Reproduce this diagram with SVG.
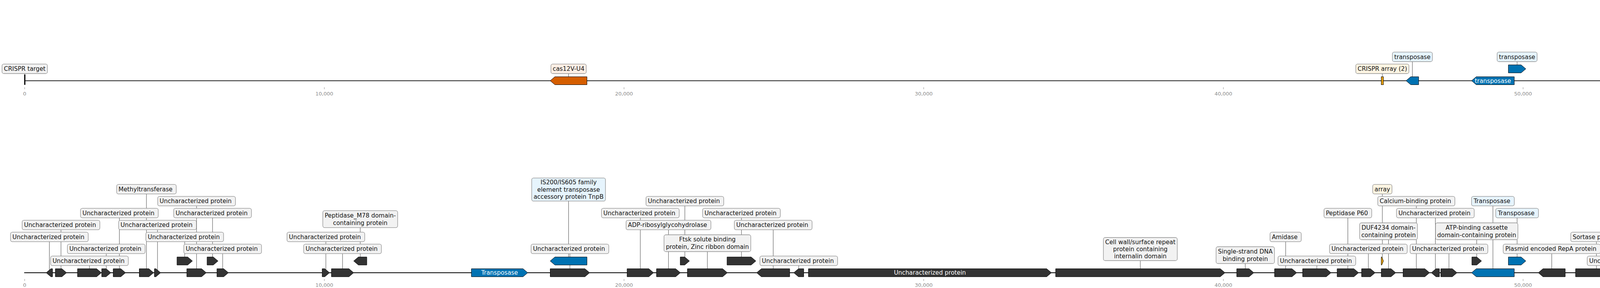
<svg xmlns="http://www.w3.org/2000/svg" width="7512" height="736" viewBox="0 0 7512 736">
<style>
text{font-family:"DejaVu Sans","Liberation Sans",sans-serif;font-size:15.28px;fill:#111;text-anchor:middle}
.g{fill:#333333;stroke:#000;stroke-width:1}
.gb{fill:#0072b2}
.go{fill:#d55e00}
.gy{fill:#e69f00}
.bx{fill:#f2f2f2;stroke:#8f8f8f;stroke-width:1.3}
.bb{fill:#e6f4fd}
.bo{fill:#fdefe5}
.by{fill:#fdf5e3}
.in{fill:#fff}
.tk{font-size:13px;fill:#8a8a8a}
.tm{stroke:#8a8a8a;stroke-width:1}
.cn line{stroke:#444;stroke-width:1}
.tr{stroke:#000;stroke-width:1.8}
</style>
<defs>
<rect id="up" class="bx" x="-99.5" y="-12.2" width="199" height="24.4" rx="4.6"/>
</defs>
<g id="tracks">
<line class="tr" x1="63" y1="206.3" x2="7502" y2="206.3"/>
<line class="tr" x1="62" y1="697" x2="7502" y2="697"/>
</g>
<g id="axis">
<g class="tm">
<line x1="63.1" y1="223" x2="63.1" y2="228"/><line x1="830.3" y1="223" x2="830.3" y2="228"/><line x1="1597.5" y1="223" x2="1597.5" y2="228"/><line x1="2364.7" y1="223" x2="2364.7" y2="228"/><line x1="3131.9" y1="223" x2="3131.9" y2="228"/><line x1="3899.1" y1="223" x2="3899.1" y2="228"/><line x1="4666.3" y1="223" x2="4666.3" y2="228"/><line x1="5433.5" y1="223" x2="5433.5" y2="228"/><line x1="6200.7" y1="223" x2="6200.7" y2="228"/><line x1="6967.9" y1="223" x2="6967.9" y2="228"/>
<line x1="63.1" y1="713" x2="63.1" y2="718"/><line x1="830.3" y1="713" x2="830.3" y2="718"/><line x1="1597.5" y1="713" x2="1597.5" y2="718"/><line x1="2364.7" y1="713" x2="2364.7" y2="718"/><line x1="3131.9" y1="713" x2="3131.9" y2="718"/><line x1="3899.1" y1="713" x2="3899.1" y2="718"/><line x1="4666.3" y1="713" x2="4666.3" y2="718"/><line x1="5433.5" y1="713" x2="5433.5" y2="718"/><line x1="6200.7" y1="713" x2="6200.7" y2="718"/><line x1="6967.9" y1="713" x2="6967.9" y2="718"/>
</g>
<text class="tk" x="63.1" y="244">0</text><text class="tk" x="830.3" y="244">10,000</text><text class="tk" x="1597.5" y="244">20,000</text><text class="tk" x="2364.7" y="244">30,000</text><text class="tk" x="3131.9" y="244">40,000</text><text class="tk" x="3899.1" y="244">50,000</text><text class="tk" x="4666.3" y="244">60,000</text><text class="tk" x="5433.5" y="244">70,000</text><text class="tk" x="6200.7" y="244">80,000</text><text class="tk" x="6967.9" y="244">90,000</text>
<text class="tk" x="63.1" y="733.4">0</text><text class="tk" x="830.3" y="733.4">10,000</text><text class="tk" x="1597.5" y="733.4">20,000</text><text class="tk" x="2364.7" y="733.4">30,000</text><text class="tk" x="3131.9" y="733.4">40,000</text><text class="tk" x="3899.1" y="733.4">50,000</text><text class="tk" x="4666.3" y="733.4">60,000</text><text class="tk" x="5433.5" y="733.4">70,000</text><text class="tk" x="6200.7" y="733.4">80,000</text><text class="tk" x="6967.9" y="733.4">90,000</text>
</g>
<g id="connectors" class="cn">
<line x1="63.5" y1="206" x2="63.5" y2="175.8"/>
<line x1="1455.6" y1="206.3" x2="1455.6" y2="175.8"/>
<line x1="3538.8" y1="206.3" x2="3538.8" y2="175.8"/>
<line x1="3615.7" y1="206.3" x2="3615.7" y2="145.3"/>
<line x1="3883.8" y1="176" x2="3883.8" y2="145.3"/>
<line x1="4557.5" y1="176" x2="4557.5" y2="145.3"/>
<line x1="4808.6" y1="206.3" x2="4808.6" y2="175.8"/>
<line x1="126.4" y1="697" x2="126.4" y2="605.5"/>
<line x1="156.1" y1="697" x2="156.1" y2="575"/>
<line x1="229" y1="697" x2="229" y2="666.5"/>
<line x1="272" y1="697" x2="272" y2="636"/>
<line x1="305.6" y1="697" x2="305.6" y2="544.5"/>
<line x1="374.9" y1="697" x2="374.9" y2="483.5"/>
<line x1="403.2" y1="697" x2="403.2" y2="575"/>
<line x1="472.9" y1="667" x2="472.9" y2="605.5"/>
<line x1="503.2" y1="697" x2="503.2" y2="514"/>
<line x1="544.1" y1="667" x2="544.1" y2="544.5"/>
<line x1="570" y1="697" x2="570" y2="636"/>
<line x1="834.2" y1="697" x2="834.2" y2="605.5"/>
<line x1="876.9" y1="697" x2="876.9" y2="636"/>
<line x1="922.2" y1="667" x2="922.2" y2="560"/>
<line x1="1459" y1="697" x2="1459" y2="636"/>
<line x1="1455.6" y1="667" x2="1455.6" y2="484.3"/>
<line x1="1639.2" y1="697" x2="1639.2" y2="544.5"/>
<line x1="1711.3" y1="697" x2="1711.3" y2="575"/>
<line x1="1753.2" y1="667" x2="1753.2" y2="514"/>
<line x1="1810.9" y1="697" x2="1810.9" y2="621.5"/>
<line x1="1898.1" y1="667" x2="1898.1" y2="544.5"/>
<line x1="1979.4" y1="697" x2="1979.4" y2="575"/>
<line x1="2044.8" y1="697" x2="2044.8" y2="666.5"/>
<line x1="2919.2" y1="697" x2="2919.2" y2="636.5"/>
<line x1="3187.9" y1="697" x2="3187.9" y2="652"/>
<line x1="3291.3" y1="697" x2="3291.3" y2="605.5"/>
<line x1="3371.1" y1="697" x2="3371.1" y2="666.5"/>
<line x1="3450.5" y1="697" x2="3450.5" y2="544.5"/>
<line x1="3503" y1="697" x2="3503" y2="636"/>
<line x1="3538.8" y1="667" x2="3538.8" y2="483.5"/>
<line x1="3554.6" y1="697" x2="3554.6" y2="591"/>
<line x1="3625.8" y1="697" x2="3625.8" y2="514"/>
<line x1="3674.5" y1="697" x2="3674.5" y2="544.5"/>
<line x1="3709.3" y1="697" x2="3709.3" y2="636"/>
<line x1="3780.4" y1="667" x2="3780.4" y2="591"/>
<line x1="3821.9" y1="697" x2="3821.9" y2="514"/>
<line x1="3883.8" y1="667" x2="3883.8" y2="544.5"/>
<line x1="3972.5" y1="697" x2="3972.5" y2="636"/>
<line x1="4086.9" y1="697" x2="4086.9" y2="605.5"/>
<line x1="4162.8" y1="697" x2="4162.8" y2="666.5"/>
<line x1="4246.8" y1="697" x2="4246.8" y2="575"/>
<line x1="4331" y1="697" x2="4331" y2="605.5"/>
<line x1="4358" y1="697" x2="4358" y2="636"/>
<line x1="4494.4" y1="697" x2="4494.4" y2="514.8"/>
<line x1="4557.5" y1="667" x2="4557.5" y2="636"/>
<line x1="4660.5" y1="697" x2="4660.5" y2="575"/>
<line x1="4765.9" y1="697" x2="4765.9" y2="636"/>
<line x1="4808.6" y1="667" x2="4808.6" y2="605.5"/>
<line x1="4867.7" y1="697" x2="4867.7" y2="575"/>
<line x1="4933.5" y1="697" x2="4933.5" y2="666.5"/>
<line x1="5027.4" y1="697" x2="5027.4" y2="468.5"/>
<line x1="5064.3" y1="697" x2="5064.3" y2="544.5"/>
<line x1="5103.4" y1="667" x2="5103.4" y2="636"/>
<line x1="5141.2" y1="697" x2="5141.2" y2="575"/>
<line x1="5179.9" y1="667" x2="5179.9" y2="514"/>
<line x1="5227.2" y1="697" x2="5227.2" y2="605.5"/>
<line x1="5273.9" y1="697" x2="5273.9" y2="544.5"/>
<line x1="5313.6" y1="697" x2="5313.6" y2="453"/>
<line x1="5337" y1="667" x2="5337" y2="483.5"/>
<line x1="5373.3" y1="697" x2="5373.3" y2="636"/>
<line x1="5411.8" y1="667" x2="5411.8" y2="575"/>
<line x1="5425" y1="697" x2="5425" y2="514"/>
<line x1="5454.2" y1="697" x2="5454.2" y2="605.5"/>
<line x1="5542.5" y1="697" x2="5542.5" y2="636"/>
<line x1="5653" y1="697" x2="5653" y2="666.5"/>
<line x1="5716.9" y1="697" x2="5716.9" y2="636"/>
<line x1="6018.7" y1="697" x2="6018.7" y2="636"/>
<line x1="6101.5" y1="697" x2="6101.5" y2="666.5"/>
<line x1="6304.9" y1="697" x2="6304.9" y2="666.5"/>
<line x1="6354" y1="697" x2="6354" y2="560.8"/>
<line x1="6401.7" y1="697" x2="6401.7" y2="605.5"/>
<line x1="6596.3" y1="697" x2="6596.3" y2="636"/>
<line x1="6689.6" y1="697" x2="6689.6" y2="666.5"/>
<line x1="6794.3" y1="697" x2="6794.3" y2="621.5"/>
<line x1="6938.9" y1="697" x2="6938.9" y2="666.5"/>
<line x1="7125.8" y1="667" x2="7125.8" y2="605.5"/>
<line x1="7167" y1="697" x2="7167" y2="636"/>
<line x1="7208.4" y1="697" x2="7208.4" y2="575"/>
</g>
<g id="top-track">
<g id="t1"><rect x="62" y="190.5" width="3" height="26.3" fill="#000"/><g transform="translate(63.3,175.8)"><rect class="bx" x="-58.1" y="-12.2" width="116.2" height="24.4" rx="4.6"/><text y="5.3">CRISPR target</text></g></g>
<g id="t2"><polygon class="g go" points="1408.5,206.3 1420.5,196.1 1502.7,196.1 1502.7,216.5 1420.5,216.5"/><g transform="translate(1455.6,175.8)"><rect class="bx bo" x="-45.2" y="-12.2" width="90.4" height="24.4" rx="4.6"/><text y="5.3">cas12V-U4</text></g></g>
<g id="t3"><rect class="g gy" x="3536" y="196.1" width="5.6" height="20.4"/><g transform="translate(3538.8,175.8)"><rect class="bx by" x="-68" y="-12.2" width="136" height="24.4" rx="4.6"/><text y="5.3">CRISPR array (2)</text></g></g>
<g id="t4"><polygon class="g gb" points="3599.5,206.3 3611.5,196.1 3631.8,196.1 3631.8,216.5 3611.5,216.5"/><g transform="translate(3615.7,145.3)"><rect class="bx bb" x="-51.2" y="-12.2" width="102.4" height="24.4" rx="4.6"/><text y="5.3">transposase</text></g></g>
<g id="t5"><polygon class="g gb" points="3767.2,206.3 3779.2,196.1 3876.6,196.1 3876.6,216.5 3779.2,216.5"/><text class="in" x="3821.9" y="211.6">transposase</text></g>
<g id="t6"><polygon class="g gb" points="3861.4,165.8 3894.1,165.8 3906.1,176 3894.1,186.2 3861.4,186.2"/><g transform="translate(3883.8,145.3)"><rect class="bx bb" x="-51.2" y="-12.2" width="102.4" height="24.4" rx="4.6"/><text y="5.3">transposase</text></g></g>
<g id="t7"><polygon class="g gb" points="4190.7,196.1 4290.9,196.1 4302.9,206.3 4290.9,216.5 4190.7,216.5"/><text class="in" x="4246.8" y="211.6">transposase</text></g>
<g id="t8"><polygon class="g go" points="4445,206.3 4457,196.1 4543.7,196.1 4543.7,216.5 4457,216.5"/><text class="in" x="4494.4" y="211.6">cas12V-U4</text></g>
<g id="t9"><polygon class="g gb" points="4537.3,165.8 4565.6,165.8 4577.6,176 4565.6,186.2 4537.3,186.2"/><g transform="translate(4557.5,145.3)"><rect class="bx bb" x="-51.2" y="-12.2" width="102.4" height="24.4" rx="4.6"/><text y="5.3">transposase</text></g></g>
<g id="t10"><polygon class="g go" points="4787.2,196.1 4818,196.1 4830,206.3 4818,216.5 4787.2,216.5"/><g transform="translate(4808.6,175.8)"><rect class="bx bo" x="-32.1" y="-12.2" width="64.2" height="24.4" rx="4.6"/><text y="5.3">cas13d</text></g></g>
<g id="t11"><polygon class="g go" points="5488.2,206.3 5500.2,196.1 5596.8,196.1 5596.8,216.5 5500.2,216.5"/><text class="in" x="5542.5" y="211.6">cas12V-U2</text></g>
<g id="t12"><polygon class="g go" points="7260.8,196.1 7490,196.1 7502,206.3 7490,216.5 7260.8,216.5"/><text class="in" x="7381.4" y="211.6">cas9</text></g>
</g>
<g id="bottom-track">
<g id="b1"><polygon class="g" points="118.2,697 130.2,686.8 134.5,686.8 134.5,707.2 130.2,707.2"/><g transform="translate(126.4,605.5)"><use href="#up"/><text x="-2.4" y="5.3">Uncharacterized protein</text></g></g>
<g id="b2"><polygon class="g" points="141.7,686.8 158.5,686.8 170.5,697 158.5,707.2 141.7,707.2"/><g transform="translate(156.1,575)"><use href="#up"/><text x="-2.4" y="5.3">Uncharacterized protein</text></g></g>
<g id="b3"><polygon class="g" points="198.4,686.8 247.5,686.8 259.5,697 247.5,707.2 198.4,707.2"/><g transform="translate(229,666.5)"><use href="#up"/><text x="-2.4" y="5.3">Uncharacterized protein</text></g></g>
<g id="b4"><polygon class="g" points="260.3,686.8 271.8,686.8 283.8,697 271.8,707.2 260.3,707.2"/><g transform="translate(272,636)"><use href="#up"/><text x="-2.4" y="5.3">Uncharacterized protein</text></g></g>
<g id="b5"><polygon class="g" points="289.8,686.8 309.4,686.8 321.4,697 309.4,707.2 289.8,707.2"/><g transform="translate(305.6,544.5)"><use href="#up"/><text x="-2.4" y="5.3">Uncharacterized protein</text></g></g>
<g id="b6"><polygon class="g" points="356.5,686.8 381.2,686.8 393.2,697 381.2,707.2 356.5,707.2"/><g transform="translate(374.9,483.5)"><rect class="bx" x="-76.3" y="-12.2" width="152.6" height="24.4" rx="4.6"/><text x="-2.4" y="5.3">Methyltransferase</text></g></g>
<g id="b7"><polygon class="g" points="395.2,686.8 399.2,686.8 411.2,697 399.2,707.2 395.2,707.2"/><g transform="translate(403.2,575)"><use href="#up"/><text x="-2.4" y="5.3">Uncharacterized protein</text></g></g>
<g id="b8"><polygon class="g" points="453.1,656.8 480.6,656.8 492.6,667 480.6,677.2 453.1,677.2"/><g transform="translate(472.9,605.5)"><use href="#up"/><text x="-2.4" y="5.3">Uncharacterized protein</text></g></g>
<g id="b9"><polygon class="g" points="478.2,686.8 516.1,686.8 528.1,697 516.1,707.2 478.2,707.2"/><g transform="translate(503.2,514)"><use href="#up"/><text x="-2.4" y="5.3">Uncharacterized protein</text></g></g>
<g id="b10"><polygon class="g" points="530.1,656.8 546.1,656.8 558.1,667 546.1,677.2 530.1,677.2"/><g transform="translate(544.1,544.5)"><use href="#up"/><text x="-2.4" y="5.3">Uncharacterized protein</text></g></g>
<g id="b11"><polygon class="g" points="555.3,686.8 572.8,686.8 584.8,697 572.8,707.2 555.3,707.2"/><g transform="translate(570,636)"><use href="#up"/><text x="-2.4" y="5.3">Uncharacterized protein</text></g></g>
<g id="b12"><polygon class="g" points="824.8,686.8 831.6,686.8 843.6,697 831.6,707.2 824.8,707.2"/><g transform="translate(834.2,605.5)"><use href="#up"/><text x="-2.4" y="5.3">Uncharacterized protein</text></g></g>
<g id="b13"><polygon class="g" points="848.4,686.8 893.4,686.8 905.4,697 893.4,707.2 848.4,707.2"/><g transform="translate(876.9,636)"><use href="#up"/><text x="-2.4" y="5.3">Uncharacterized protein</text></g></g>
<g id="b14"><polygon class="g" points="905.4,667 917.4,656.8 939,656.8 939,677.2 917.4,677.2"/><g transform="translate(922.2,560)"><rect class="bx" x="-95.8" y="-21.7" width="191.6" height="43.4" rx="4.6"/><text y="-4.2">Peptidase_M78 domain-<tspan x="0" y="14.8">containing protein</tspan></text></g></g>
<g id="b15"><polygon class="g gb" points="1206.8,686.8 1339,686.8 1351,697 1339,707.2 1206.8,707.2"/><text class="in" x="1278.9" y="702.3">Transposase</text></g>
<g id="b16"><polygon class="g" points="1408.5,686.8 1497.5,686.8 1509.5,697 1497.5,707.2 1408.5,707.2"/><g transform="translate(1459,636)"><use href="#up"/><text x="-2.4" y="5.3">Uncharacterized protein</text></g></g>
<g id="b17"><polygon class="g gb" points="1408.5,667 1420.5,656.8 1502.7,656.8 1502.7,677.2 1420.5,677.2"/><g transform="translate(1455.6,484.3)"><rect class="bx bb" x="-94.4" y="-29.5" width="188.8" height="59" rx="4.6"/><text y="-12.9">IS200/IS605 family<tspan x="0" y="5.3">element transposase</tspan><tspan x="0" y="23.5">accessory protein TnpB</tspan></text></g></g>
<g id="b18"><polygon class="g" points="1605.3,686.8 1661.1,686.8 1673.1,697 1661.1,707.2 1605.3,707.2"/><g transform="translate(1639.2,544.5)"><use href="#up"/><text x="-2.4" y="5.3">Uncharacterized protein</text></g></g>
<g id="b19"><polygon class="g" points="1680.7,686.8 1729.8,686.8 1741.8,697 1729.8,707.2 1680.7,707.2"/><g transform="translate(1711.3,575)"><rect class="bx" x="-108.6" y="-12.2" width="217.2" height="24.4" rx="4.6"/><text x="-2.4" y="5.3">ADP-ribosylglycohydrolase</text></g></g>
<g id="b20"><polygon class="g" points="1741.4,656.8 1753,656.8 1765,667 1753,677.2 1741.4,677.2"/><g transform="translate(1753.2,514)"><use href="#up"/><text x="-2.4" y="5.3">Uncharacterized protein</text></g></g>
<g id="b21"><polygon class="g" points="1759.8,686.8 1850,686.8 1862,697 1850,707.2 1759.8,707.2"/><g transform="translate(1810.9,621.5)"><rect class="bx" x="-111.1" y="-21.5" width="222.2" height="43" rx="4.6"/><text y="-4.2">Ftsk solute binding<tspan x="0" y="14.8">protein, Zinc ribbon domain</tspan></text></g></g>
<g id="b22"><polygon class="g" points="1861.2,656.8 1923,656.8 1935,667 1923,677.2 1861.2,677.2"/><g transform="translate(1898.1,544.5)"><use href="#up"/><text x="-2.4" y="5.3">Uncharacterized protein</text></g></g>
<g id="b23"><polygon class="g" points="1937,697 1949,686.8 2021.7,686.8 2021.7,707.2 1949,707.2"/><g transform="translate(1979.4,575)"><use href="#up"/><text x="-2.4" y="5.3">Uncharacterized protein</text></g></g>
<g id="b24"><polygon class="g" points="2032,697 2044,686.8 2057.6,686.8 2057.6,707.2 2044,707.2"/><g transform="translate(2044.8,666.5)"><use href="#up"/><text x="-2.4" y="5.3">Uncharacterized protein</text></g></g>
<g id="b25"><polygon class="g" points="2069.6,686.8 2679.6,686.8 2691.6,697 2679.6,707.2 2069.6,707.2"/><text class="in" x="2380.6" y="702.3">Uncharacterized protein</text></g>
<g id="b26"><polygon class="g" points="2702.4,686.8 3124,686.8 3136,697 3124,707.2 2702.4,707.2"/><g transform="translate(2919.2,636.5)"><rect class="bx" x="-94.6" y="-29.5" width="189.2" height="59" rx="4.6"/><text y="-12.9">Cell wall/surface repeat<tspan x="0" y="5.3">protein containing</tspan><tspan x="0" y="23.5">internalin domain</tspan></text></g></g>
<g id="b27"><polygon class="g" points="3166,686.8 3197.8,686.8 3209.8,697 3197.8,707.2 3166,707.2"/><g transform="translate(3187.9,652)"><rect class="bx" x="-74.7" y="-21.5" width="149.4" height="43" rx="4.6"/><text y="-4.2">Single-strand DNA<tspan x="0" y="14.8">binding protein</tspan></text></g></g>
<g id="b28"><polygon class="g" points="3262.9,686.8 3307.6,686.8 3319.6,697 3307.6,707.2 3262.9,707.2"/><g transform="translate(3291.3,605.5)"><rect class="bx" x="-40" y="-12.2" width="80" height="24.4" rx="4.6"/><text x="-2.4" y="5.3">Amidase</text></g></g>
<g id="b29"><polygon class="g" points="3334.8,686.8 3395.4,686.8 3407.4,697 3395.4,707.2 3334.8,707.2"/><g transform="translate(3371.1,666.5)"><use href="#up"/><text x="-2.4" y="5.3">Uncharacterized protein</text></g></g>
<g id="b30"><polygon class="g" points="3423,686.8 3466,686.8 3478,697 3466,707.2 3423,707.2"/><g transform="translate(3450.5,544.5)"><rect class="bx" x="-61.1" y="-12.2" width="122.2" height="24.4" rx="4.6"/><text x="-2.4" y="5.3">Peptidase P60</text></g></g>
<g id="b31"><polygon class="g" points="3485.7,686.8 3508.4,686.8 3520.4,697 3508.4,707.2 3485.7,707.2"/><g transform="translate(3503,636)"><use href="#up"/><text x="-2.4" y="5.3">Uncharacterized protein</text></g></g>
<g id="b32"><polygon class="g gy" points="3536,656.8 3537.4,656.8 3541.6,667 3537.4,677.2 3536,677.2"/><g transform="translate(3538.8,483.5)"><rect class="bx by" x="-24.7" y="-12.2" width="49.4" height="24.4" rx="4.6"/><text y="5.3">array</text></g></g>
<g id="b33"><polygon class="g" points="3536,686.8 3561.1,686.8 3573.1,697 3561.1,707.2 3536,707.2"/><g transform="translate(3554.6,591)"><rect class="bx" x="-74" y="-21.5" width="148" height="43" rx="4.6"/><text y="-4.2">DUF4234 domain-<tspan x="0" y="14.8">containing protein</tspan></text></g></g>
<g id="b34"><polygon class="g" points="3591.9,686.8 3647.7,686.8 3659.7,697 3647.7,707.2 3591.9,707.2"/><g transform="translate(3625.8,514)"><rect class="bx" x="-98.7" y="-12.2" width="197.4" height="24.4" rx="4.6"/><text x="-2.4" y="5.3">Calcium-binding protein</text></g></g>
<g id="b35"><polygon class="g" points="3664.1,697 3676.1,686.8 3685,686.8 3685,707.2 3676.1,707.2"/><g transform="translate(3674.5,544.5)"><use href="#up"/><text x="-2.4" y="5.3">Uncharacterized protein</text></g></g>
<g id="b36"><polygon class="g" points="3688.5,686.8 3718,686.8 3730,697 3718,707.2 3688.5,707.2"/><g transform="translate(3709.3,636)"><use href="#up"/><text x="-2.4" y="5.3">Uncharacterized protein</text></g></g>
<g id="b37"><polygon class="g" points="3768,656.8 3780.7,656.8 3792.7,667 3780.7,677.2 3768,677.2"/><g transform="translate(3780.4,591)"><rect class="bx" x="-105.4" y="-21.5" width="210.8" height="43" rx="4.6"/><text y="-4.2">ATP-binding cassette<tspan x="0" y="14.8">domain-containing protein</tspan></text></g></g>
<g id="b38"><polygon class="g gb" points="3767.2,697 3779.2,686.8 3876.6,686.8 3876.6,707.2 3779.2,707.2"/><g transform="translate(3821.9,514)"><rect class="bx bb" x="-54.7" y="-12.2" width="109.4" height="24.4" rx="4.6"/><text x="-2.4" y="5.3">Transposase</text></g></g>
<g id="b39"><polygon class="g gb" points="3861.4,656.8 3894.1,656.8 3906.1,667 3894.1,677.2 3861.4,677.2"/><g transform="translate(3883.8,544.5)"><rect class="bx bb" x="-54.7" y="-12.2" width="109.4" height="24.4" rx="4.6"/><text x="-2.4" y="5.3">Transposase</text></g></g>
<g id="b40"><polygon class="g" points="3938,697 3950,686.8 4007,686.8 4007,707.2 3950,707.2"/><g transform="translate(3972.5,636)"><rect class="bx" x="-124.3" y="-12.2" width="248.6" height="24.4" rx="4.6"/><text x="-2.4" y="5.3">Plasmid encoded RepA protein</text></g></g>
<g id="b41"><polygon class="g" points="4033.4,686.8 4128.4,686.8 4140.4,697 4128.4,707.2 4033.4,707.2"/><g transform="translate(4086.9,605.5)"><rect class="bx" x="-65.8" y="-12.2" width="131.6" height="24.4" rx="4.6"/><text x="-2.4" y="5.3">Sortase protein</text></g></g>
<g id="b42"><polygon class="g" points="4143.2,686.8 4170.3,686.8 4182.3,697 4170.3,707.2 4143.2,707.2"/><g transform="translate(4162.8,666.5)"><use href="#up"/><text x="-2.4" y="5.3">Uncharacterized protein</text></g></g>
<g id="b43"><polygon class="g gb" points="4190.7,686.8 4290.9,686.8 4302.9,697 4290.9,707.2 4190.7,707.2"/><g transform="translate(4246.8,575)"><rect class="bx bb" x="-54.7" y="-12.2" width="109.4" height="24.4" rx="4.6"/><text x="-2.4" y="5.3">Transposase</text></g></g>
<g id="b44"><polygon class="g" points="4318.9,686.8 4331.2,686.8 4343.2,697 4331.2,707.2 4318.9,707.2"/><g transform="translate(4331,605.5)"><use href="#up"/><text x="-2.4" y="5.3">Uncharacterized protein</text></g></g>
<g id="b45"><polygon class="g" points="4344,686.8 4360,686.8 4372,697 4360,707.2 4344,707.2"/><g transform="translate(4358,636)"><use href="#up"/><text x="-2.4" y="5.3">Uncharacterized protein</text></g></g>
<g id="b46"><polygon class="g gb" points="4445,697 4457,686.8 4543.7,686.8 4543.7,707.2 4457,707.2"/><g transform="translate(4494.4,514.8)"><rect class="bx bb" x="-94.4" y="-29.5" width="188.8" height="59" rx="4.6"/><text y="-12.9">IS200/IS605 family<tspan x="0" y="5.3">element transposase</tspan><tspan x="0" y="23.5">accessory protein TnpB</tspan></text></g></g>
<g id="b47"><polygon class="g gb" points="4537.3,656.8 4565.6,656.8 4577.6,667 4565.6,677.2 4537.3,677.2"/><g transform="translate(4557.5,636)"><rect class="bx bb" x="-54.7" y="-12.2" width="109.4" height="24.4" rx="4.6"/><text x="-2.4" y="5.3">Transposase</text></g></g>
<g id="b48"><polygon class="g" points="4644.3,686.8 4664.6,686.8 4676.6,697 4664.6,707.2 4644.3,707.2"/><g transform="translate(4660.5,575)"><use href="#up"/><text x="-2.4" y="5.3">Uncharacterized protein</text></g></g>
<g id="b49"><polygon class="g" points="4744.5,686.8 4775.2,686.8 4787.2,697 4775.2,707.2 4744.5,707.2"/><g transform="translate(4765.9,636)"><use href="#up"/><text x="-2.4" y="5.3">Uncharacterized protein</text></g></g>
<g id="b50"><polygon class="g" points="4787.2,656.8 4818,656.8 4830,667 4818,677.2 4787.2,677.2"/><g transform="translate(4808.6,605.5)"><use href="#up"/><text x="-2.4" y="5.3">Uncharacterized protein</text></g></g>
<g id="b51"><polygon class="g" points="4830.3,686.8 4893,686.8 4905,697 4893,707.2 4830.3,707.2"/><g transform="translate(4867.7,575)"><use href="#up"/><text x="-2.4" y="5.3">Uncharacterized protein</text></g></g>
<g id="b52"><polygon class="g" points="4911.3,686.8 4943.7,686.8 4955.7,697 4943.7,707.2 4911.3,707.2"/><g transform="translate(4933.5,666.5)"><rect class="bx" x="-98.1" y="-12.2" width="196.2" height="24.4" rx="4.6"/><text x="-2.4" y="5.3">DUF5052 family protein</text></g></g>
<g id="b53"><polygon class="g" points="5006.8,686.8 5036,686.8 5048,697 5036,707.2 5006.8,707.2"/><g transform="translate(5027.4,468.5)"><rect class="bx" x="-74.1" y="-21.5" width="148.2" height="43" rx="4.6"/><text y="-4.2">Clp_N domain-<tspan x="0" y="14.8">containing protein</tspan></text></g></g>
<g id="b54"><polygon class="g" points="5049.5,686.8 5067,686.8 5079,697 5067,707.2 5049.5,707.2"/><g transform="translate(5064.3,544.5)"><use href="#up"/><text x="-2.4" y="5.3">Uncharacterized protein</text></g></g>
<g id="b55"><polygon class="g" points="5084.2,656.8 5110.6,656.8 5122.6,667 5110.6,677.2 5084.2,677.2"/><g transform="translate(5103.4,636)"><use href="#up"/><text x="-2.4" y="5.3">Uncharacterized protein</text></g></g>
<g id="b56"><polygon class="g" points="5114.6,686.8 5155.7,686.8 5167.7,697 5155.7,707.2 5114.6,707.2"/><g transform="translate(5141.2,575)"><use href="#up"/><text x="-2.4" y="5.3">Uncharacterized protein</text></g></g>
<g id="b57"><polygon class="g" points="5164.1,656.8 5183.6,656.8 5195.6,667 5183.6,677.2 5164.1,677.2"/><g transform="translate(5179.9,514)"><use href="#up"/><text x="-2.4" y="5.3">Uncharacterized protein</text></g></g>
<g id="b58"><polygon class="g" points="5208,686.8 5234.3,686.8 5246.3,697 5234.3,707.2 5208,707.2"/><g transform="translate(5227.2,605.5)"><use href="#up"/><text x="-2.4" y="5.3">Uncharacterized protein</text></g></g>
<g id="b59"><polygon class="g" points="5254.7,686.8 5281,686.8 5293,697 5281,707.2 5254.7,707.2"/><g transform="translate(5273.9,544.5)"><use href="#up"/><text x="-2.4" y="5.3">Uncharacterized protein</text></g></g>
<g id="b60"><polygon class="g" points="5304.2,686.8 5311,686.8 5323,697 5311,707.2 5304.2,707.2"/><g transform="translate(5313.6,453)"><use href="#up"/><text x="-2.4" y="5.3">Uncharacterized protein</text></g></g>
<g id="b61"><polygon class="g" points="5321.8,656.8 5340.1,656.8 5352.1,667 5340.1,677.2 5321.8,677.2"/><g transform="translate(5337,483.5)"><use href="#up"/><text x="-2.4" y="5.3">Uncharacterized protein</text></g></g>
<g id="b62"><polygon class="g" points="5351.7,686.8 5382.8,686.8 5394.8,697 5382.8,707.2 5351.7,707.2"/><g transform="translate(5373.3,636)"><use href="#up"/><text x="-2.4" y="5.3">Uncharacterized protein</text></g></g>
<g id="b63"><polygon class="g" points="5395.2,656.8 5416.4,656.8 5428.4,667 5416.4,677.2 5395.2,677.2"/><g transform="translate(5411.8,575)"><use href="#up"/><text x="-2.4" y="5.3">Uncharacterized protein</text></g></g>
<g id="b64"><polygon class="g" points="5406,686.8 5432,686.8 5444,697 5432,707.2 5406,707.2"/><g transform="translate(5425,514)"><use href="#up"/><text x="-2.4" y="5.3">Uncharacterized protein</text></g></g>
<g id="b65"><polygon class="g" points="5444,686.8 5452.3,686.8 5464.3,697 5452.3,707.2 5444,707.2"/><g transform="translate(5454.2,605.5)"><use href="#up"/><text x="-2.4" y="5.3">Uncharacterized protein</text></g></g>
<g id="b66"><polygon class="g gb" points="5488.2,697 5500.2,686.8 5596.8,686.8 5596.8,707.2 5500.2,707.2"/><g transform="translate(5542.5,636)"><rect class="bx bb" x="-54.7" y="-12.2" width="109.4" height="24.4" rx="4.6"/><text x="-2.4" y="5.3">Transposase</text></g></g>
<g id="b67"><polygon class="g" points="5628.8,686.8 5665.1,686.8 5677.1,697 5665.1,707.2 5628.8,707.2"/><g transform="translate(5653,666.5)"><use href="#up"/><text x="-2.4" y="5.3">Uncharacterized protein</text></g></g>
<g id="b68"><polygon class="g" points="5691.9,686.8 5729.8,686.8 5741.8,697 5729.8,707.2 5691.9,707.2"/><g transform="translate(5716.9,636)"><use href="#up"/><text x="-2.4" y="5.3">Uncharacterized protein</text></g></g>
<g id="b69"><polygon class="g" points="5750.6,697 5762.6,686.8 6002.5,686.8 6002.5,707.2 5762.6,707.2"/><text class="in" x="5876.6" y="702.3">Cell surface protein</text></g>
<g id="b70"><polygon class="g" points="6010.5,697 6022.5,686.8 6026.8,686.8 6026.8,707.2 6022.5,707.2"/><g transform="translate(6018.7,636)"><rect class="bx" x="-81.7" y="-12.2" width="163.4" height="24.4" rx="4.6"/><text x="-2.4" y="5.3">Cell surface protein</text></g></g>
<g id="b71"><polygon class="g" points="6069.1,697 6081.1,686.8 6133.8,686.8 6133.8,707.2 6081.1,707.2"/><g transform="translate(6101.5,666.5)"><rect class="bx" x="-91.5" y="-12.2" width="183" height="24.4" rx="4.6"/><text x="-2.4" y="5.3">Thymidylate synthase</text></g></g>
<g id="b72"><polygon class="g" points="6161,697 6173,686.8 6291.5,686.8 6291.5,707.2 6173,707.2"/><text class="in" x="6226.3" y="702.3">RNA ligase</text></g>
<g id="b73"><polygon class="g" points="6293.1,697 6305.1,686.8 6316.7,686.8 6316.7,707.2 6305.1,707.2"/><g transform="translate(6304.9,666.5)"><use href="#up"/><text x="-2.4" y="5.3">Uncharacterized protein</text></g></g>
<g id="b74"><polygon class="g" points="6327,697 6339,686.8 6381,686.8 6381,707.2 6339,707.2"/><g transform="translate(6354,560.8)"><rect class="bx" x="-84.6" y="-21.5" width="169.2" height="43" rx="4.6"/><text y="-4.2">Metallophos domain-<tspan x="0" y="14.8">containing protein</tspan></text></g></g>
<g id="b75"><polygon class="g" points="6385.7,697 6397.7,686.8 6417.7,686.8 6417.7,707.2 6397.7,707.2"/><g transform="translate(6401.7,605.5)"><use href="#up"/><text x="-2.4" y="5.3">Uncharacterized protein</text></g></g>
<g id="b76"><polygon class="g" points="6578,697 6590,686.8 6614.5,686.8 6614.5,707.2 6590,707.2"/><g transform="translate(6596.3,636)"><use href="#up"/><text x="-2.4" y="5.3">Uncharacterized protein</text></g></g>
<g id="b77"><polygon class="g" points="6666.8,697 6678.8,686.8 6712.3,686.8 6712.3,707.2 6678.8,707.2"/><g transform="translate(6689.6,666.5)"><use href="#up"/><text x="-2.4" y="5.3">Uncharacterized protein</text></g></g>
<g id="b78"><polygon class="g" points="6727,697 6739,686.8 6861.6,686.8 6861.6,707.2 6739,707.2"/><g transform="translate(6794.3,621.5)"><rect class="bx" x="-85.4" y="-21.5" width="170.8" height="43" rx="4.6"/><text y="-4.2">Pentapeptide repeat-<tspan x="0" y="14.8">containing protein</tspan></text></g></g>
<g id="b79"><polygon class="g" points="6878,697 6890,686.8 6999.8,686.8 6999.8,707.2 6890,707.2"/><g transform="translate(6938.9,666.5)"><use href="#up"/><text x="-2.4" y="5.3">Uncharacterized protein</text></g></g>
<g id="b80"><polygon class="g" points="7100.8,667 7112.8,656.8 7150.7,656.8 7150.7,677.2 7112.8,677.2"/><g transform="translate(7125.8,605.5)"><use href="#up"/><text x="-2.4" y="5.3">Uncharacterized protein</text></g></g>
<g id="b81"><polygon class="g" points="7141.5,697 7153.5,686.8 7192.6,686.8 7192.6,707.2 7153.5,707.2"/><g transform="translate(7167,636)"><use href="#up"/><text x="-2.4" y="5.3">Uncharacterized protein</text></g></g>
<g id="b82"><polygon class="g" points="7194.2,697 7206.2,686.8 7222.5,686.8 7222.5,707.2 7206.2,707.2"/><g transform="translate(7208.4,575)"><use href="#up"/><text x="-2.4" y="5.3">Uncharacterized protein</text></g></g>
<g id="b83"><polygon class="g" points="7260.8,686.8 7490,686.8 7502,697 7490,707.2 7260.8,707.2"/><text class="in" x="7381.4" y="702.3">Restriction endonuclease</text></g>
</g>
</svg>
